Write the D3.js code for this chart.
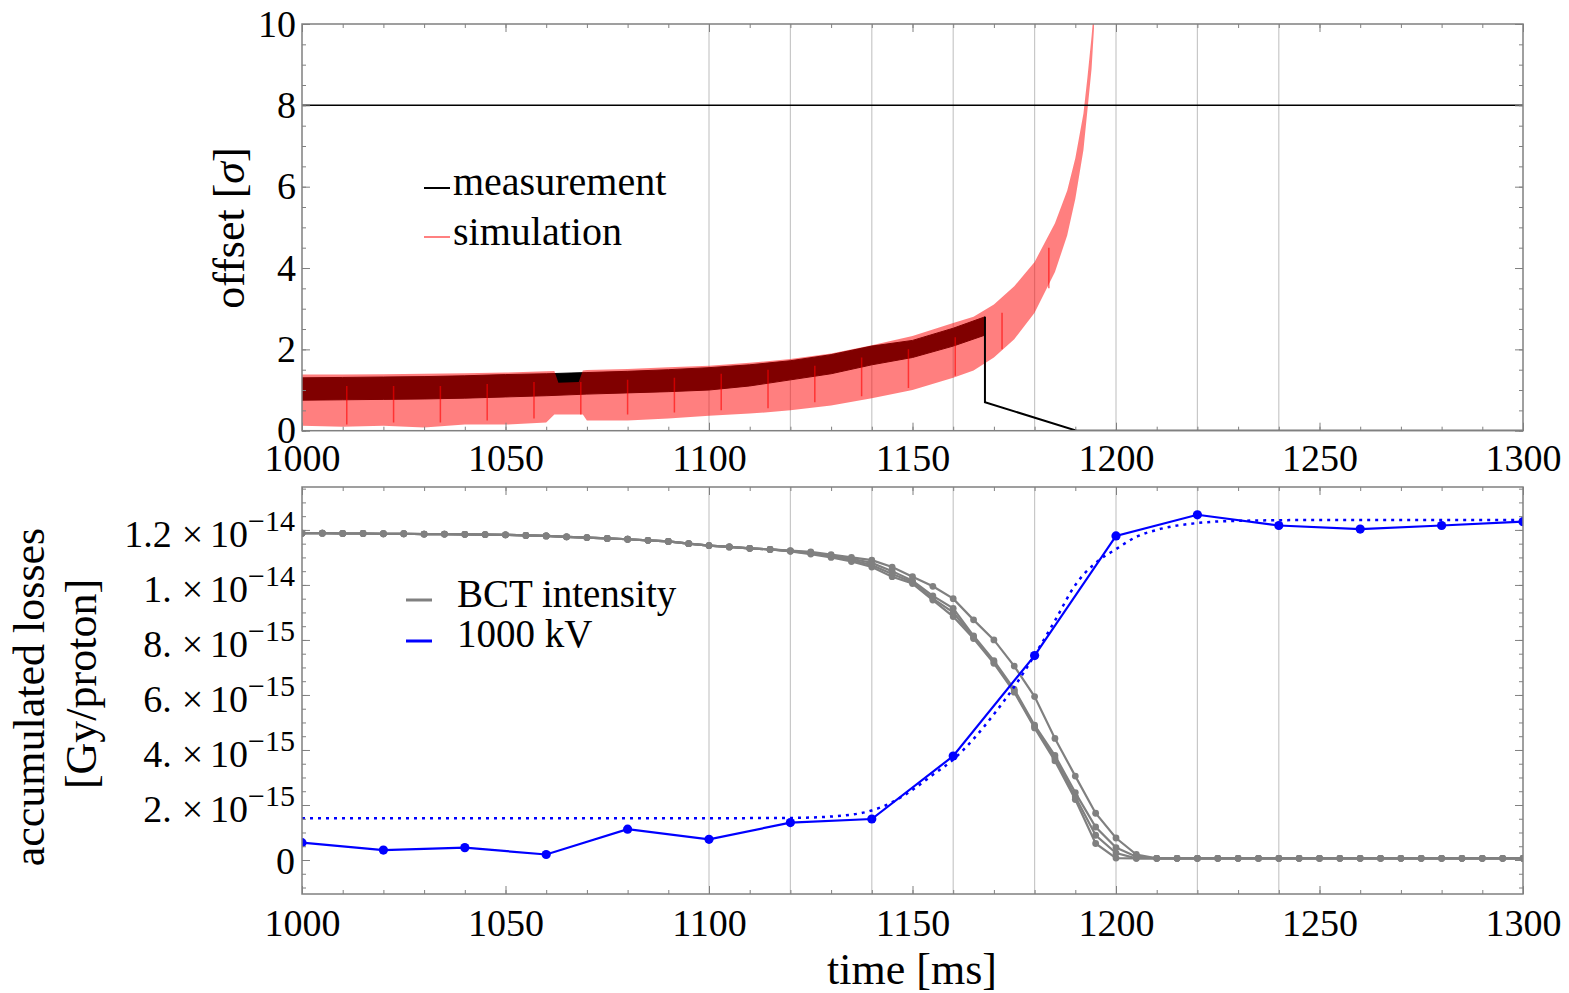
<!DOCTYPE html>
<html>
<head>
<meta charset="utf-8">
<script src="https://cdn.jsdelivr.net/npm/d3@7"></script>
<style>
	body { margin: 0; background: #fff; }
	svg text { font-family: "Liberation Serif", "Times New Roman", serif; fill: #000; }
</style>
</head>
<body>
<div id="chart"></div>
<script>

// ---------- data: top panel (offset in sigma) ----------
const timeTicks = [1000, 1050, 1100, 1150, 1200, 1250, 1300];
const gridTimes = [1100, 1120, 1140, 1160, 1180, 1200, 1220, 1240];
const offsetTicks = [0, 2, 4, 6, 8, 10];
const thresholdOffset = 8;

// simulation oscillation envelope
const simTime  = [1000, 1010, 1020, 1030, 1040, 1050, 1060, 1062, 1063, 1068, 1069, 1070,
	1080, 1090, 1100, 1110, 1120, 1130, 1140, 1150, 1160, 1165,
	1170, 1175, 1180, 1185, 1188, 1190, 1192, 1193, 1194, 1194.6];
const simUpper = [1.38, 1.38, 1.39, 1.40, 1.41, 1.43, 1.46, 1.47, 1.18, 1.20, 1.48, 1.49,
	1.52, 1.56, 1.60, 1.67, 1.76, 1.90, 2.10, 2.33, 2.65, 2.80,
	3.10, 3.55, 4.15, 5.10, 5.90, 6.70, 7.80, 8.70, 9.70, 10.4];
const simLower = [0.12, 0.10, 0.12, 0.08, 0.15, 0.15, 0.20, 0.40, 0.40, 0.40, 0.40, 0.25,
	0.25, 0.30, 0.37, 0.42, 0.50, 0.62, 0.80, 1.00, 1.30, 1.48,
	1.80, 2.25, 2.90, 3.90, 4.80, 5.70, 6.90, 7.90, 8.90, 9.90];

// brighter strokes inside the simulation band
const spikeTime = [1011, 1022.5, 1034, 1045.5, 1057, 1068.5, 1080, 1091.5, 1103, 1114.5, 1126, 1137.5, 1149, 1160.5, 1172, 1183.5];
const spikeLow  = [0.15, 0.20, 0.20, 0.25, 0.30, 0.40, 0.40, 0.45, 0.50, 0.55, 0.70, 0.85, 1.05, 1.35, 2.00, 3.50];
const spikeHigh = [1.10, 1.10, 1.10, 1.15, 1.20, 1.20, 1.25, 1.30, 1.40, 1.50, 1.60, 1.80, 2.00, 2.30, 2.90, 4.50];

// measurement envelope, then the single trace after the beam dump
const measTime  = [1000, 1010, 1020, 1030, 1040, 1050, 1060, 1070, 1080, 1090, 1100, 1110, 1120, 1130, 1140, 1150, 1160, 1167.8];
const measUpper = [1.30, 1.31, 1.32, 1.33, 1.35, 1.38, 1.40, 1.43, 1.46, 1.50, 1.55, 1.62, 1.72, 1.87, 2.08, 2.22, 2.52, 2.80];
const measLower = [0.75, 0.76, 0.77, 0.78, 0.80, 0.83, 0.86, 0.90, 0.93, 0.96, 1.00, 1.10, 1.25, 1.40, 1.62, 1.80, 2.08, 2.35];
const measTailTime  = [1167.8, 1167.8, 1190.3, 1300];
const measTailValue = [2.80, 0.70, 0.00, 0.00];

// ---------- data: bottom panel (units of 1e-15 Gy/proton) ----------
const lossTickValues   = [0, 2, 4, 6, 8, 10, 12];
const lossTickMantissa = ["0", "2.", "4.", "6.", "8.", "1.", "1.2"];
const lossTickExponent = ["", "−15", "−15", "−15", "−15", "−14", "−14"];

const bctTime = [1000, 1005, 1010, 1015, 1020, 1025, 1030, 1035, 1040, 1045, 1050, 1055, 1060, 1065, 1070,
	1075, 1080, 1085, 1090, 1095, 1100, 1105, 1110, 1115, 1120, 1125, 1130, 1135, 1140, 1145,
	1150, 1155, 1160, 1165, 1170, 1175, 1180, 1185, 1190, 1195, 1200, 1205, 1210, 1215, 1220,
	1225, 1230, 1235, 1240, 1245, 1250, 1255, 1260, 1265, 1270, 1275, 1280, 1285, 1290, 1295, 1300];
const bctA = [11.88, 11.88, 11.87, 11.87, 11.86, 11.86, 11.85, 11.85, 11.84, 11.83, 11.82, 11.80, 11.78, 11.75, 11.72,
	11.69, 11.66, 11.62, 11.58, 11.50, 11.43, 11.38, 11.33, 11.29, 11.22, 11.12, 11.00, 10.85, 10.65, 10.30,
	10.05, 9.45, 8.85, 8.05, 7.15, 6.10, 4.80, 3.60, 2.20, 0.60, 0.07, 0.06, 0.06, 0.06, 0.06,
	0.06, 0.06, 0.06, 0.06, 0.06, 0.06, 0.06, 0.06, 0.06, 0.06, 0.06, 0.06, 0.06, 0.06, 0.06, 0.06];
const bctB = [11.88, 11.88, 11.87, 11.87, 11.86, 11.86, 11.85, 11.85, 11.84, 11.83, 11.82, 11.80, 11.78, 11.75, 11.72,
	11.69, 11.66, 11.62, 11.58, 11.50, 11.43, 11.38, 11.33, 11.29, 11.23, 11.15, 11.04, 10.90, 10.72, 10.40,
	10.10, 9.50, 9.00, 8.10, 7.20, 6.15, 4.85, 3.70, 2.30, 0.90, 0.25, 0.06, 0.06, 0.06, 0.06,
	0.06, 0.06, 0.06, 0.06, 0.06, 0.06, 0.06, 0.06, 0.06, 0.06, 0.06, 0.06, 0.06, 0.06, 0.06, 0.06];
const bctC = [11.88, 11.88, 11.87, 11.87, 11.86, 11.86, 11.85, 11.85, 11.84, 11.83, 11.82, 11.80, 11.78, 11.75, 11.72,
	11.69, 11.66, 11.62, 11.58, 11.50, 11.43, 11.38, 11.33, 11.29, 11.24, 11.17, 11.07, 10.95, 10.80, 10.50,
	10.15, 9.60, 9.15, 8.15, 7.25, 6.20, 4.90, 3.80, 2.45, 1.20, 0.45, 0.12, 0.06, 0.06, 0.06,
	0.06, 0.06, 0.06, 0.06, 0.06, 0.06, 0.06, 0.06, 0.06, 0.06, 0.06, 0.06, 0.06, 0.06, 0.06, 0.06];
const bctD = [11.88, 11.88, 11.87, 11.87, 11.86, 11.86, 11.85, 11.85, 11.84, 11.83, 11.82, 11.80, 11.78, 11.75, 11.72,
	11.69, 11.66, 11.62, 11.58, 11.50, 11.43, 11.38, 11.33, 11.29, 11.25, 11.20, 11.10, 11.00, 10.90, 10.65,
	10.30, 9.95, 9.50, 8.73, 8.00, 7.05, 5.94, 4.42, 3.05, 1.70, 0.80, 0.20, 0.06, 0.06, 0.06,
	0.06, 0.06, 0.06, 0.06, 0.06, 0.06, 0.06, 0.06, 0.06, 0.06, 0.06, 0.06, 0.06, 0.06, 0.06, 0.06];

// accumulated losses at 1000 kV and its fit
const lossTime  = [1000, 1020, 1040, 1060, 1080, 1100, 1120, 1140, 1160, 1180, 1200, 1220, 1240, 1260, 1280, 1300];
const lossValue = [0.63, 0.36, 0.45, 0.20, 1.12, 0.75, 1.36, 1.49, 3.78, 7.43, 11.78, 12.55, 12.16, 12.03, 12.16, 12.30];
const fitTime  = [1000, 1100, 1120, 1130, 1140, 1145, 1150, 1155, 1160, 1165, 1170, 1175, 1180, 1185, 1190, 1195, 1200, 1205, 1210, 1220, 1230, 1250, 1300];
const fitValue = [1.52, 1.52, 1.53, 1.58, 1.80, 2.10, 2.55, 3.10, 3.65, 4.40, 5.30, 6.30, 7.45, 8.70, 10.0, 10.8, 11.3, 11.75, 12.0, 12.25, 12.33, 12.36, 12.36];


// ---------- layout ----------
const W = 1569, H = 993;
const frameColor = "#808080";
const serif = "'Liberation Serif', 'Times New Roman', serif";

const svg = d3.select("#chart").append("svg")
	.attr("width", W)
	.attr("height", H)
	.style("background", "#fff");

const x = d3.scaleLinear().domain([1000, 1300]).range([302, 1523]);
const yTop = d3.scaleLinear().domain([0, 10]).range([430.7, 24]);
const yBot = d3.scaleLinear().domain([-1.236, 13.56]).range([894, 487]);

// clip paths for the two plot areas
const defs = svg.append("defs");
[["clipTop", yTop], ["clipBot", yBot]].forEach(([id, y]) => {
	defs.append("clipPath").attr("id", id).append("rect")
		.attr("x", x.range()[0]).attr("y", y.range()[1])
		.attr("width", x.range()[1] - x.range()[0])
		.attr("height", y.range()[0] - y.range()[1]);
});

function drawGrid(y) {
	svg.append("g").selectAll("line")
		.data(gridTimes)
		.join("line")
		.attr("x1", d => x(d)).attr("x2", d => x(d))
		.attr("y1", y.range()[1]).attr("y2", y.range()[0])
		.attr("stroke", "#c8c8c8")
		.attr("stroke-width", 1.2);
}

function styleAxis(a) {
	a.select(".domain").remove();
	a.selectAll(".tick line").attr("stroke", frameColor).attr("stroke-width", 1);
	a.selectAll(".tick text").attr("font-family", serif).attr("font-size", 38).attr("fill", "#000");
	return a;
}

// frame with inward ticks on all four sides
function drawFrame(y, yMajor, xLabelPad, withXLabels) {
	const [yb, yt] = y.range();
	const [xl, xr] = x.range();
	const g = svg.append("g");

	const xMinor = x.ticks(30);
	const yMinor = y.ticks(30).filter(v => Math.abs(v * 2 - Math.round(v * 2)) < 1e-9);

	// minor ticks
	styleAxis(g.append("g").attr("transform", `translate(0,${yb})`)
		.call(d3.axisBottom(x).tickValues(xMinor).tickSize(-4).tickFormat("")));
	styleAxis(g.append("g").attr("transform", `translate(0,${yt})`)
		.call(d3.axisTop(x).tickValues(xMinor).tickSize(-4).tickFormat("")));
	styleAxis(g.append("g").attr("transform", `translate(${xl},0)`)
		.call(d3.axisLeft(y).tickValues(yMinor).tickSize(-4).tickFormat("")));
	styleAxis(g.append("g").attr("transform", `translate(${xr},0)`)
		.call(d3.axisRight(y).tickValues(yMinor).tickSize(-4).tickFormat("")));

	// major ticks
	styleAxis(g.append("g").attr("transform", `translate(0,${yb})`)
		.call(d3.axisBottom(x).tickValues(timeTicks).tickSize(-8).tickPadding(xLabelPad)
			.tickFormat(withXLabels ? d3.format("d") : "")));
	styleAxis(g.append("g").attr("transform", `translate(0,${yt})`)
		.call(d3.axisTop(x).tickValues(timeTicks).tickSize(-8).tickFormat("")));
	styleAxis(g.append("g").attr("transform", `translate(${xr},0)`)
		.call(d3.axisRight(y).tickValues(yMajor).tickSize(-8).tickFormat("")));

	g.append("rect")
		.attr("x", xl).attr("y", yt)
		.attr("width", xr - xl).attr("height", yb - yt)
		.attr("fill", "none")
		.attr("stroke", frameColor)
		.attr("stroke-width", 1.5);
	return g;
}


// ================= top panel =================
drawGrid(yTop);

const topPlot = svg.append("g").attr("clip-path", "url(#clipTop)");

const measBand = measTime.map((t, i) => ({t: t, lo: measLower[i], hi: measUpper[i]}));
const simBand = simTime.map((t, i) => ({t: t, lo: simLower[i], hi: simUpper[i]}));

const band = d3.area()
	.x(d => x(d.t))
	.y0(d => yTop(d.lo))
	.y1(d => yTop(d.hi));

topPlot.append("path")
	.datum(measBand)
	.attr("d", band)
	.attr("fill", "#000")
	.attr("stroke", "#000")
	.attr("stroke-width", 1);

topPlot.append("path")
	.datum(simBand)
	.attr("d", band)
	.attr("fill", "#ff0000")
	.attr("fill-opacity", 0.5);

topPlot.selectAll(".spike")
	.data(spikeTime)
	.join("line")
	.attr("class", "spike")
	.attr("x1", d => x(d)).attr("x2", d => x(d))
	.attr("y1", (d, i) => yTop(spikeLow[i]))
	.attr("y2", (d, i) => yTop(spikeHigh[i]))
	.attr("stroke", "#ff0000")
	.attr("stroke-opacity", 0.6)
	.attr("stroke-width", 1.5);

topPlot.append("path")
	.datum(measTailTime.map((t, i) => [t, measTailValue[i]]))
	.attr("d", d3.line().x(d => x(d[0])).y(d => yTop(d[1])))
	.attr("fill", "none")
	.attr("stroke", "#000")
	.attr("stroke-width", 2);

topPlot.append("line")
	.attr("x1", x.range()[0]).attr("x2", x.range()[1])
	.attr("y1", yTop(thresholdOffset)).attr("y2", yTop(thresholdOffset))
	.attr("stroke", "#000")
	.attr("stroke-width", 1.5);

drawFrame(yTop, offsetTicks, 13, true);

styleAxis(svg.append("g").attr("transform", `translate(${x.range()[0]},0)`)
	.call(d3.axisLeft(yTop).tickValues(offsetTicks).tickSize(-8).tickPadding(6).tickFormat(d3.format("d"))));

svg.append("text")
	.attr("transform", "translate(244,228) rotate(-90)")
	.attr("text-anchor", "middle")
	.attr("font-size", 44)
	.call(t => {
		t.append("tspan").text("offset [");
		t.append("tspan").attr("font-style", "italic").text("σ");
		t.append("tspan").text("]");
	});

// legend top
const legTop = svg.append("g");
legTop.append("line").attr("x1", 424).attr("x2", 450).attr("y1", 188).attr("y2", 188)
	.attr("stroke", "#000").attr("stroke-width", 2);
legTop.append("text").attr("x", 453).attr("y", 195).attr("font-size", 40).text("measurement");
legTop.append("line").attr("x1", 424).attr("x2", 450).attr("y1", 237).attr("y2", 237)
	.attr("stroke", "#ff8080").attr("stroke-width", 2);
legTop.append("text").attr("x", 453).attr("y", 245).attr("font-size", 40).text("simulation");


// ================= bottom panel =================
drawGrid(yBot);

const botPlot = svg.append("g").attr("clip-path", "url(#clipBot)");

const bctSeries = [bctA, bctB, bctC, bctD];
const bctLine = d3.line().x((d, i) => x(bctTime[i])).y(d => yBot(d));

bctSeries.forEach(values => {
	botPlot.append("path")
		.datum(values)
		.attr("d", bctLine)
		.attr("fill", "none")
		.attr("stroke", "#808080")
		.attr("stroke-width", 2.2);
	botPlot.append("g").selectAll("circle")
		.data(values)
		.join("circle")
		.attr("cx", (d, i) => x(bctTime[i]))
		.attr("cy", d => yBot(d))
		.attr("r", 3.4)
		.attr("fill", "#808080");
});

botPlot.append("path")
	.datum(fitValue)
	.attr("d", d3.line().x((d, i) => x(fitTime[i])).y(d => yBot(d)).curve(d3.curveMonotoneX))
	.attr("fill", "none")
	.attr("stroke", "#0000ff")
	.attr("stroke-width", 2.5)
	.attr("stroke-dasharray", "3,5");

botPlot.append("path")
	.datum(lossValue)
	.attr("d", d3.line().x((d, i) => x(lossTime[i])).y(d => yBot(d)))
	.attr("fill", "none")
	.attr("stroke", "#0000ff")
	.attr("stroke-width", 2.2);

botPlot.append("g").selectAll("circle")
	.data(lossValue)
	.join("circle")
	.attr("cx", (d, i) => x(lossTime[i]))
	.attr("cy", d => yBot(d))
	.attr("r", 4.6)
	.attr("fill", "#0000ff");

drawFrame(yBot, lossTickValues, 15, true);

// y axis with mantissa x 10^exponent labels
const lossAxis = styleAxis(svg.append("g").attr("transform", `translate(${x.range()[0]},0)`)
	.call(d3.axisLeft(yBot).tickValues(lossTickValues).tickSize(-8).tickFormat("")));

lossAxis.selectAll(".tick text").each(function (d, i) {
	const t = d3.select(this).attr("dy", null).attr("x", -7);
	if (lossTickExponent[i] === "") {
		t.attr("y", 13).text(lossTickMantissa[i]);
		return;
	}
	t.attr("y", 17);
	t.append("tspan").text(lossTickMantissa[i]);
	t.append("tspan").attr("dx", 10).text("×");
	t.append("tspan").attr("dx", 7).text("10");
	t.append("tspan").attr("font-size", 30).attr("dy", -16).text(lossTickExponent[i]);
});

svg.append("text")
	.attr("transform", "translate(44,697) rotate(-90)")
	.attr("text-anchor", "middle")
	.attr("font-size", 44)
	.text("accumulated losses");
svg.append("text")
	.attr("transform", "translate(96,684) rotate(-90)")
	.attr("text-anchor", "middle")
	.attr("font-size", 44)
	.text("[Gy/proton]");

svg.append("text")
	.attr("x", 912)
	.attr("y", 984)
	.attr("text-anchor", "middle")
	.attr("font-size", 44)
	.text("time [ms]");

// legend bottom
const legBot = svg.append("g");
legBot.append("line").attr("x1", 406).attr("x2", 432).attr("y1", 600).attr("y2", 600)
	.attr("stroke", "#808080").attr("stroke-width", 3);
legBot.append("text").attr("x", 457).attr("y", 607).attr("font-size", 39).text("BCT intensity");
legBot.append("line").attr("x1", 406).attr("x2", 432).attr("y1", 641).attr("y2", 641)
	.attr("stroke", "#0000ff").attr("stroke-width", 3);
legBot.append("text").attr("x", 457).attr("y", 647).attr("font-size", 39).text("1000 kV");

</script>
</body>
</html>
